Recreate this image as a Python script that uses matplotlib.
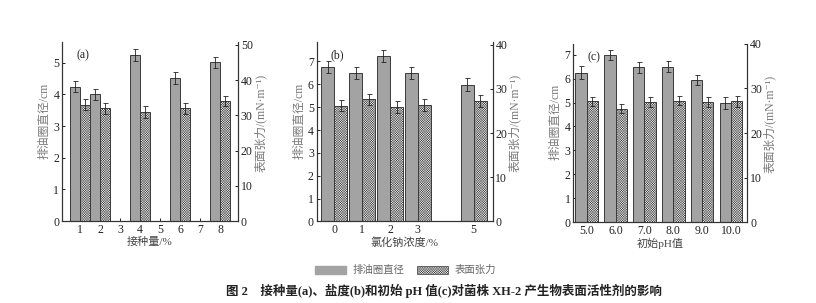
import matplotlib
matplotlib.use('Agg')
import matplotlib.pyplot as plt
from matplotlib.patches import Patch

plt.rcParams['font.family'] = ['Liberation Serif', 'Noto Sans CJK SC', 'DejaVu Serif']
plt.rcParams['hatch.linewidth'] = 0.3
plt.rcParams['hatch.color'] = '#a8a8a8'

# panel (a): inoculum size
x_a = [1, 2, 4, 6, 8]
dia_a = [4.25, 4.0, 5.25, 4.52, 5.02]
dia_err_a = [0.18, 0.18, 0.18, 0.18, 0.18]
st_a = [33.0, 32.0, 30.9, 32.0, 34.1]
st_err_a = [1.5, 1.5, 1.6, 1.5, 1.5]
xt_a = [1, 2, 3, 4, 5, 6, 7, 8]

# panel (b): NaCl concentration
x_b = [0, 1, 2, 3, 5]
dia_b = [6.75, 6.5, 7.23, 6.5, 5.99]
dia_err_b = [0.25, 0.25, 0.25, 0.25, 0.28]
st_b = [26.2, 27.6, 25.9, 26.3, 27.3]
st_err_b = [1.3, 1.3, 1.3, 1.3, 1.3]
xt_b = [0, 1, 2, 3, 5]

# panel (c): initial pH
x_c = [5, 6, 7, 8, 9, 10]
dia_c = [6.25, 6.99, 6.47, 6.5, 5.95, 5.0]
dia_err_c = [0.28, 0.22, 0.22, 0.22, 0.2, 0.25]
st_c = [27.1, 25.5, 27.0, 27.3, 27.0, 27.1]
st_err_c = [1.1, 1.0, 1.1, 1.1, 1.1, 1.2]
xt_c = [5, 6, 7, 8, 9, 10]
xtl_c = ['5.0', '6.0', '7.0', '8.0', '9.0', '10.0']

dark = '#a3a3a3'
light = '#f2f2f2'
edge = '#3a3a3a'
gray_text = '#7a7a7a'
hatch = 'x' * 14

fig = plt.figure(figsize=(8.16, 3.03), dpi=100)

panels = [
    dict(pos=[0.076, 0.2706, 0.2157, 0.5908], x=x_a, d=dia_a, de=dia_err_a, s=st_a, se=st_err_a,
         w=0.5, xlim=(0.1, 8.9), yl=(0, 5.66), yr=(0, 50.8), lt=[1, 2, 3, 4, 5],
         rt=[10, 20, 30, 40, 50], xt=xt_a, xtl=[str(v) for v in xt_a], lab='(a)', xlab='接种量/%'),
    dict(pos=[0.388, 0.2690, 0.2157, 0.5924], x=x_b, d=dia_b, de=dia_err_b, s=st_b, se=st_err_b,
         w=0.47, xlim=(-0.63, 5.68), yl=(0, 7.85), yr=(0, 40.6), lt=[1, 2, 3, 4, 5, 6, 7],
         rt=[10, 20, 30, 40], xt=xt_b, xtl=[str(v) for v in xt_b], lab='(b)', xlab='氯化钠浓度/%'),
    dict(pos=[0.7026, 0.2673, 0.2132, 0.5875], x=x_c, d=dia_c, de=dia_err_c, s=st_c, se=st_err_c,
         w=0.39, xlim=(4.54, 10.56), yl=(0, 7.45), yr=(0, 40.0), lt=[1, 2, 3, 4, 5, 6, 7],
         rt=[10, 20, 30, 40], xt=xt_c, xtl=xtl_c, lab='(c)', xlab='初始pH值'),
]

for p in panels:
    ax = fig.add_axes(p['pos'])
    ax2 = ax.twinx()
    w = p['w']
    ax.bar([v - w / 2 for v in p['x']], p['d'], width=w, color=dark, edgecolor=edge, linewidth=0.7,
           yerr=p['de'], error_kw=dict(ecolor='#222222', elinewidth=0.6, capsize=1.8, capthick=0.6), zorder=2)
    ax2.bar([v + w / 2 for v in p['x']], p['s'], width=w, color=light, edgecolor=edge, linewidth=0.7,
            hatch=hatch, yerr=p['se'],
            error_kw=dict(ecolor='#222222', elinewidth=0.6, capsize=1.8, capthick=0.6), zorder=2)
    ax.set_xlim(*p['xlim'])
    ax.set_ylim(*p['yl'])
    ax2.set_ylim(*p['yr'])
    ax.set_yticks([0] + p['lt'])
    ax2.set_yticks([0] + p['rt'])
    ax.set_xticks(p['xt'])
    ax.set_xticklabels(p['xtl'])
    for a in (ax, ax2):
        a.tick_params(direction='in', length=2.5, width=0.7, labelsize=8.5, colors='#222222', pad=2)
        for sp in a.spines.values():
            sp.set_linewidth(0.8)
            sp.set_color('#333333')
        a.spines['top'].set_visible(False)
    ax.set_ylabel('排油圈直径/cm', fontsize=8.5, color=gray_text, labelpad=2)
    ax2.set_ylabel('表面张力/(mN·m⁻¹)', fontsize=8.5, color=gray_text, labelpad=1)
    ax.yaxis.label.set_y(0.56)
    ax2.yaxis.label.set_y(0.55)
    ax.set_xlabel(p['xlab'], fontsize=8, color='#444444', labelpad=1)
    ax.text(0.08, 0.96, p['lab'], transform=ax.transAxes, fontsize=8.5, va='top', ha='left', color='#222222')

handles = [Patch(facecolor=dark, edgecolor=dark, label='排油圈直径'),
           Patch(facecolor=light, edgecolor=edge, hatch=hatch, linewidth=0.5, label='表面张力')]
fig.legend(handles=handles, loc='center', bbox_to_anchor=(0.497, 0.108), ncol=2, frameon=False,
           fontsize=7.5, handlelength=3.0, handleheight=0.8, columnspacing=1.2, handletextpad=0.6,
           labelcolor='#666666')

fig.text(0.544, 0.04, '图 2    接种量(a)、盐度(b)和初始 pH 值(c)对菌株 XH-2 产生物表面活性剂的影响',
         ha='center', va='center', fontsize=9, fontweight='bold', color='#222222')

fig.savefig('out.png', dpi=100, facecolor='white')
